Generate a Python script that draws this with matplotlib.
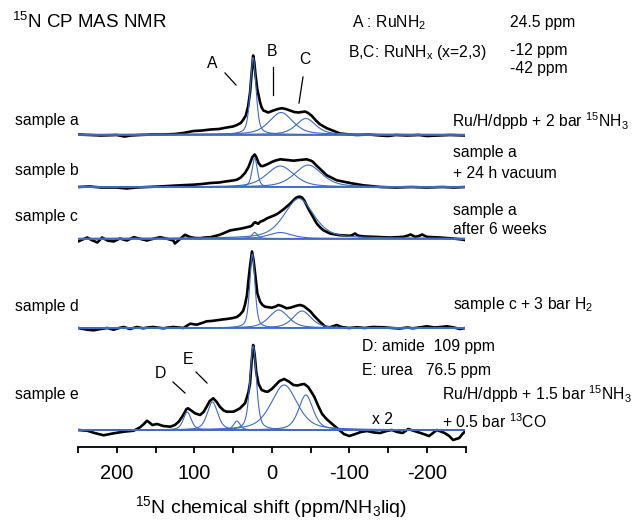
import numpy as np
import matplotlib
matplotlib.use('Agg')
import matplotlib.pyplot as plt

plt.rcParams['font.family'] = ['Liberation Sans', 'DejaVu Sans']
plt.rcParams['mathtext.default'] = 'regular'
plt.rcParams['axes.unicode_minus'] = False

blue = '#3d6bc5'

samples = ['sample a', 'sample b', 'sample c', 'sample d', 'sample e']

# fitted components: centre (ppm), height, fwhm (ppm)
peaks_a = [(24, 77, 9), (-12, 22, 36), (-44, 16, 30)]
peaks_b = [(22, 29, 8), (-11, 21, 42), (-47, 22, 42)]
peaks_c = [(22, 6, 8), (-11, 6, 35), (-35, 40, 45)]
peaks_d = [(25, 74, 8), (-9, 18, 30), (-39, 17, 28)]
peaks_e = [(109, 18, 12), (76.5, 28, 16), (45, 9, 10), (24, 84, 10), (-16, 45, 40), (-44, 35, 22)]

# measured spectra (ppm, intensity)
ppm_a = [250, 235, 220, 200, 190, 182, 170, 155, 140, 125, 114, 101, 90, 79, 68, 58, 50, 45, 40, 37, 33.5, 30.5,
         28, 26, 24, 22.5, 21, 18.6, 15, 13, 10.8, 4.4, -2, -8, -13, -18, -23.6, -29, -34, -39, -43, -47, -51.6,
         -57, -62, -71, -79.5, -88, -101, -110, -125, -140, -150, -160, -175, -190, -200, -215, -230, -250]
int_a = [0, -0.5, -1, -0.5, -2, -1, -0.5, 0, 0, 0.5, 1.5, 3.5, 4, 5, 5.5, 7, 8, 9.5, 11.5, 14.5, 19, 28,
         42, 61, 79, 72, 60, 45, 32, 27, 24, 22, 24, 25.5, 26.3, 25.5, 24, 22.5, 22, 22.5, 23, 21.5, 18.7,
         14, 10.3, 6.3, 3.7, 1, 0, -0.5, 0, -1, -1.5, -0.5, -1, -0.5, -1.5, -1, -0.5, -1]

ppm_b = [250, 235, 220, 200, 187, 175, 160, 145, 127, 115, 101, 90, 79, 68, 58, 50, 45, 40, 34.5, 30, 28, 25,
         22, 20, 17, 14, 11, 5, 0, -5, -11, -20, -28, -36, -45, -50, -53, -57, -62, -71, -84, -101, -118, -130,
         -140, -160, -180, -200, -220, -235, -250]
int_b = [0, 0.5, -0.5, -0.5, -1.5, -0.5, 0, 0.5, 1.3, 1.8, 2.3, 3, 4, 4.5, 5.7, 6.5, 7.3, 9.5, 14, 20, 24, 30,
         32.5, 30, 24, 21, 21, 23, 25, 26.5, 27.7, 27, 26.3, 27, 27.7, 26.5, 25.3, 22, 18.3, 11.7, 6.7, 4, 1.7, 0.8,
         0, -0.5, 0, -0.5, 0, -0.5, 0]

ppm_c = [250, 244, 238, 232, 225, 219, 212, 204, 196, 187, 178, 170, 161, 153, 144, 135, 127, 125, 122, 118, 112,
         105, 99, 92.5, 86, 79, 73, 67, 60, 54, 47, 41, 36, 32, 28, 25.5, 23, 21.5, 19.5, 17.5, 15, 10, 6.5, 2, -2,
         -7, -11, -15, -19, -24, -28, -31, -34, -36.5, -39, -42, -45, -48, -52, -55, -58, -62, -66.5, -75, -82,
         -88, -95, -101, -104, -107.5, -110, -112, -120, -131, -142, -153, -162, -170, -176, -179, -183, -185,
         -190, -194, -197, -200, -208, -217, -225, -234, -245, -250]
int_c = [-3, -1, 1, -1.7, -4, 1, -2, -3, 0, -2, 1.3, -0.3, -2, -0.3, 1.3, -0.3, -2, -5, -3, -0.3, 3.7,
         1.3, 0.5, 0.3, 1, 1.3, 2.5, 3.7, 6, 8, 9, 9.7, 10.5, 11.3, 12, 13, 15.5, 16.3, 15.5, 14.7, 16.7, 18.3, 20,
         21.5, 22.7, 24.5, 26.7, 29, 31.7, 35, 38.3, 40.5, 41.7, 41.8, 41, 38, 33.3, 28.5, 23.3, 19, 15, 11.5, 8.3,
         5, 4, 3.3, 3, 2.7, 3.5, 5, 3.5, 2.7, 2, 1.7, 1.3, 1, 1.3, 1.7, 3, 4, 2.5, 1.7, 2.5, 4, 2.8, 1.7, 1.3, 1,
         0.5, 0, -1, -1.7]

ppm_d = [250, 238, 230, 221, 212, 204, 197, 191, 183, 174, 166, 160, 153, 146, 140, 133, 127, 120, 114, 109,
         105, 97, 90, 84, 78, 71, 64, 58, 50, 45, 41, 37, 34.5, 32, 30, 28, 25.5, 23.5, 21.5, 18.6, 15, 12, 8.6, 0,
         -5, -8.6, -13, -19, -24, -28, -33, -36.5, -41, -45, -50, -53.7, -58, -62, -66, -69, -75, -80, -84, -88,
         -92, -100, -110, -120, -130, -144, -155, -165, -175, -182, -190, -200, -210, -218, -226, -235, -243, -250]
int_d = [0, -1.7, -2.3, -1, 0, -1.7, 0, 1, -1, 1, -0.3, 0.5, 1, 0.3, -0.3, 0.5, 1, 0.5, 0, 2.5,
         4.3, 3.3, 5, 6.7, 7, 7.7, 8.5, 9, 10, 11, 13.3, 17, 23.3, 33, 48.3, 62, 76.5, 68, 54.7, 34.7, 26.3, 23, 21.3,
         20.3, 21.5, 23, 22, 19.7, 20.3, 21.3, 22.5, 23, 22, 19.7, 16.5, 13, 9.5, 6.3, 3.5, 1.3, 0.7, 2, 3, 1.5,
         0.7, 0, 0.7, 0, 1, 0.7, 0, -0.5, 0.5, -0.3, 0.5, 1.7, 0.5, 1, 1.7, 0.5, -1, 0]

ppm_e = [250, 238, 230, 217, 204, 191, 178, 170, 165, 161, 157, 154, 148, 144, 140, 131, 125, 120, 115, 110,
         108, 103, 99, 92.5, 88, 84, 80, 75.5, 71, 67, 62, 58, 49.5, 45, 41, 34.5, 30, 28, 26, 24, 22, 20, 17, 13,
         8, 5, 0, -5, -10, -16, -22, -28, -33, -38, -42, -47, -52, -55, -60, -65, -70, -75, -81, -87, -93, -100,
         -108, -115, -123, -132, -140, -148, -155, -162, -169, -176, -184, -192, -203, -208, -213, -218, -223,
         -229, -234, -242, -246, -250]
int_e = [0, -0.7, -2.7, -5.3, -3.3, -1.7, -0.7, 2.7, 6, 9.3, 7, 5, 6, 5, 4, 3.3, 5, 8.3, 14, 21,
         21.7, 19, 16.7, 15, 18, 23.3, 29, 31.7, 28, 23.3, 19.5, 18.3, 18.3, 20, 21.7, 26.7, 38, 47, 68, 85, 75, 58,
         46, 40, 38.5, 38.3, 41, 45, 49, 51, 48.5, 45, 44.5, 45.5, 46, 43, 37, 33, 24, 16, 11.5, 8, 4, 0, -4, -6,
         -4, -2, -1, -2.5, -3, -1, 0, -2, -3, 1, -1, -3, -6, -3, 0, -1.5, -3, -6, -10, -8, -4, -1]

all_peaks = [peaks_a, peaks_b, peaks_c, peaks_d, peaks_e]
all_ppm = [ppm_a, ppm_b, ppm_c, ppm_d, ppm_e]
all_int = [int_a, int_b, int_c, int_d, int_e]

W, H = 638, 521
# baseline of each trace, in pixels from the top of the figure
base_px = [134.5, 187, 238.5, 328, 430]
axis_px = 447


def component(x, c, h, w, eta=0.5):
    d = (x - c) / w
    return h * (eta / (1 + 4 * d ** 2) + (1 - eta) * np.exp(-4 * np.log(2) * d ** 2))


def ftext(x, y, s, size=11.3, ha='left'):
    fig.text(x / W, 1 - y / H, s, fontsize=size, ha=ha, va='center')


def fline(x0, y0, x1, y1):
    fig.add_artist(plt.Line2D([x0 / W, x1 / W], [1 - y0 / H, 1 - y1 / H], color='black', lw=0.9))


fig = plt.figure(figsize=(W / 100, H / 100), dpi=100)
ax = fig.add_axes([78 / W, 1 - axis_px / H, (465.5 - 78) / W, axis_px / H])

x = np.linspace(250, -250, 2001)
for i in range(len(samples)):
    off = axis_px - base_px[i]
    ax.plot(all_ppm[i], off + np.array(all_int[i]), color='black', lw=1.9, solid_joinstyle='round')
    ax.plot([250, -250], [off, off], color=blue, lw=1.3)
    for c, h, w in all_peaks[i]:
        ax.plot(x, off + component(x, c, h, w), color=blue, lw=0.8)

ax.set_xlim(250, -250)
ax.set_ylim(0, axis_px)
for s in ['left', 'right', 'top']:
    ax.spines[s].set_visible(False)
ax.spines['bottom'].set_linewidth(1.3)
ax.set_yticks([])
ax.set_xticks([200, 100, 0, -100, -200])
ax.set_xticks([250, 150, 50, -50, -150, -250], minor=True)
ax.tick_params(axis='x', which='both', direction='out', length=4, width=1.3, labelsize=14.5, pad=8)

ftext(12, 22, '$^{15}$N CP MAS NMR', size=13.5)
ftext(352, 23, 'A : RuNH$_2$')
ftext(510, 23, '24.5 ppm')
ftext(348, 52, 'B,C: RuNH$_x$ (x=2,3)')
ftext(510, 50, '-12 ppm')
ftext(510, 68, '-42 ppm')

label_y = [120, 170, 217, 307, 395]
for i, name in enumerate(samples):
    ftext(15, label_y[i], name)

ftext(452, 121, 'Ru/H/dppb + 2 bar $^{15}$NH$_3$')
ftext(453, 153, 'sample a')
ftext(453, 173, '+ 24 h vacuum')
ftext(453, 210, 'sample a')
ftext(453, 230, 'after 6 weeks')
ftext(453, 304, 'sample c + 3 bar H$_2$')
ftext(362, 346, 'D: amide  109 ppm')
ftext(362, 370, 'E: urea   76.5 ppm')
ftext(442, 394, 'Ru/H/dppb + 1.5 bar $^{15}$NH$_3$')
ftext(442, 422, '+ 0.5 bar $^{13}$CO')
ftext(382, 420, 'x 2', ha='center')

ftext(212, 63, 'A', ha='center')
fline(225, 73, 236, 85)
ftext(272, 52, 'B', ha='center')
fline(273, 67, 273, 95)
ftext(305, 60, 'C', ha='center')
fline(303, 77, 299, 103)
ftext(160, 373, 'D', ha='center')
fline(173, 382, 185, 393)
ftext(188, 360, 'E', ha='center')
fline(196, 372, 207, 383)

ftext(271, 507, '$^{15}$N chemical shift (ppm/NH$_3$liq)', size=14, ha='center')

fig.savefig('out.png', dpi=100)
